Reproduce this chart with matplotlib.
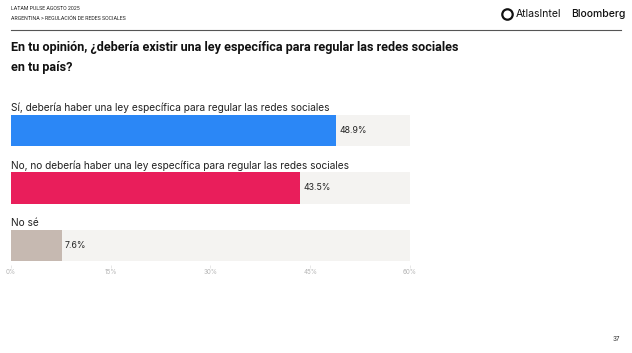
import matplotlib.pyplot as plt

plt.rcParams['font.family'] = ['Inter', 'DejaVu Sans']
narrow = ['Roboto', 'DejaVu Sans']

categories = ['Sí, debería haber una ley específica para regular las redes sociales',
              'No, no debería haber una ley específica para regular las redes sociales',
              'No sé']
values = [48.9, 43.5, 7.6]
colors = ['#2b87f6', '#e91e5b', '#c6b9b1']
ticks = [0, 15, 30, 45, 60]

W, H = 632, 353
fig = plt.figure(figsize=(W / 100, H / 100), dpi=100)
fig.patch.set_facecolor('white')

# header
fig.text(11 / W, 1 - 9 / H, 'LATAM PULSE AGOSTO 2025', fontsize=3.8, va='center', color='#222222', family=narrow)
fig.text(11 / W, 1 - 18 / H, 'ARGENTINA > REGULACIÓN DE REDES SOCIALES', fontsize=3.8, va='center',
         color='#222222', family=narrow)
fig.add_artist(plt.Line2D([11 / W, 621 / W], [1 - 30 / H, 1 - 30 / H], color='#555555', lw=0.8))
fig.add_artist(plt.Line2D([507 / W], [1 - 14 / H], marker='o', ms=7.5, mfc='none', mec='#111111', mew=1.6))
fig.text(516 / W, 1 - 14 / H, 'AtlasIntel', fontsize=7.5, va='center', color='#111111')
fig.text(625 / W, 1 - 14 / H, 'Bloomberg', fontsize=7.5, va='center', ha='right', weight='medium', color='#111111')
fig.text(620 / W, 1 - 339 / H, '37', fontsize=4.5, va='center', ha='right', color='#333333')

# title
fig.text(11 / W, 1 - 47 / H, 'En tu opinión, ¿debería existir una ley específica para regular las redes sociales',
         fontsize=9.1, weight='bold', va='center', color='#111111', family=narrow)
fig.text(11 / W, 1 - 67 / H, 'en tu país?', fontsize=9.1, weight='bold', va='center', color='#111111', family=narrow)

ax = fig.add_axes([11 / W, 1 - 265 / H, 399 / W, 165 / H])
ax.set_xlim(0, 60)
ax.set_ylim(2.339, -0.53)
ypos = list(range(len(values)))
ax.barh(ypos, [60] * len(values), height=0.54, color='#f4f3f1')
ax.barh(ypos, values, height=0.54, color=colors)
for y, v, c in zip(ypos, values, categories):
    ax.text(v + 0.5, y, f'{v}%', va='center', ha='left', fontsize=6.3, color='#222222')
    ax.text(0, y - 0.39, c, va='center', ha='left', fontsize=7.3, color='#222222')

for s in ax.spines.values():
    s.set_visible(False)
ax.set_yticks([])
ax.set_xticks(ticks)
ax.set_xticklabels([f'{t}%' for t in ticks])
ax.tick_params(axis='x', length=2, width=0.5, color='#dddddd', labelsize=4.5, labelcolor='#b5b5b5', pad=1)

fig.savefig('out.png', dpi=100)
